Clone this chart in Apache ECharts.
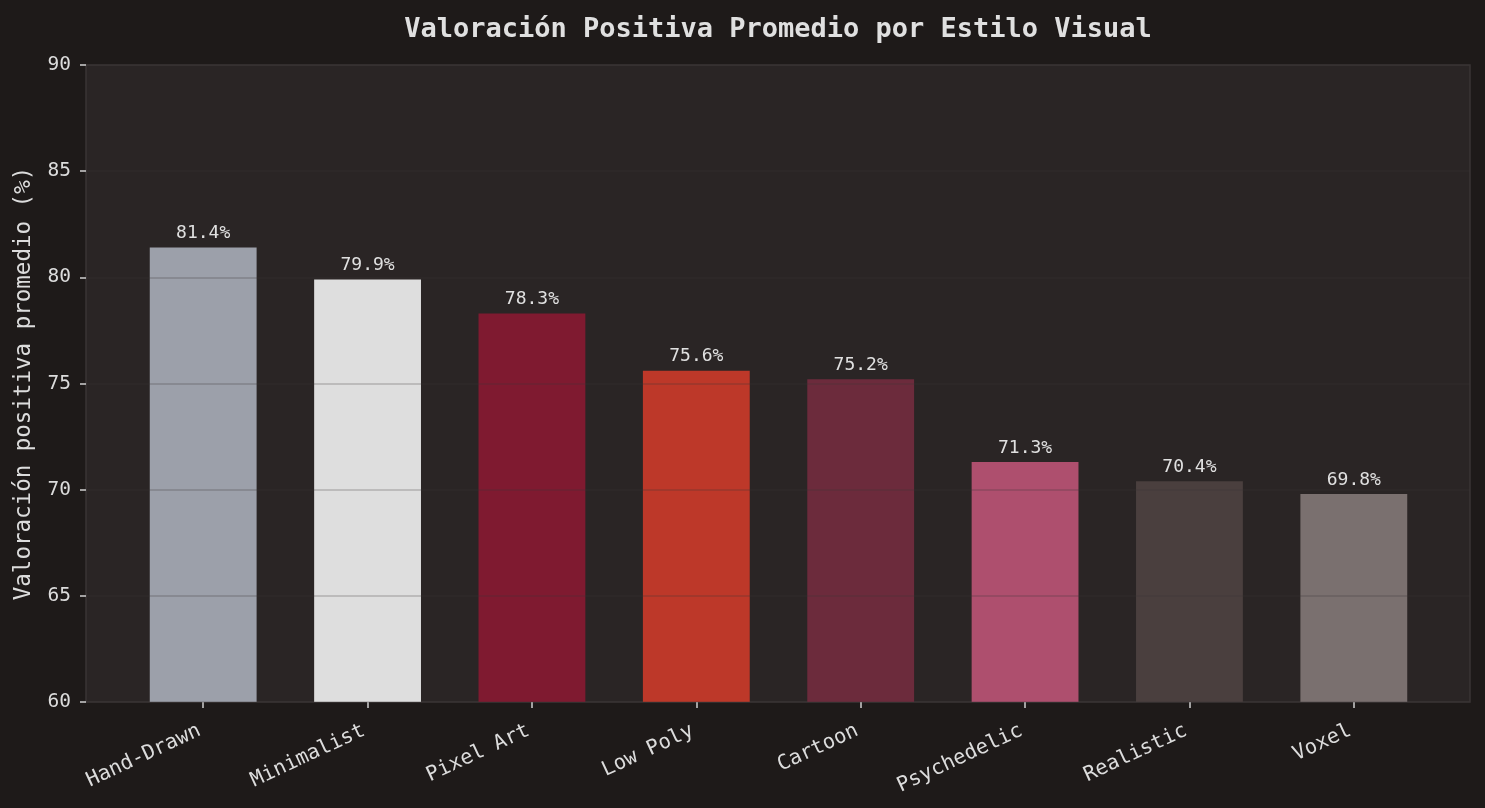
<!DOCTYPE html>
<html>
<head>
<meta charset="utf-8">
<script src="https://cdn.jsdelivr.net/npm/echarts@6/dist/echarts.min.js"></script>
<style>
html,body{margin:0;padding:0;background:#1e1a19;}
#c{width:1485px;height:808px;}
</style>
</head>
<body>
<div id="c"></div>
<script>
const categories = ['Hand-Drawn','Minimalist','Pixel Art','Low Poly','Cartoon','Psychedelic','Realistic','Voxel'];
const values = [81.4, 79.9, 78.3, 75.6, 75.2, 71.3, 70.4, 69.8];
const barColors = ['#9ca0aa','#dedede','#7f1a30','#bd3829','#6c2b3c','#ae4f6e','#4a3f3e','#7a706f'];
const yMin = 60, yMax = 90, yStep = 5;
const FONT = 'DejaVu Sans Mono';

const chart = echarts.init(document.getElementById('c'));
chart.setOption({
  backgroundColor: '#1e1a19',
  animation: false,
  title: {
    text: 'Valoración Positiva Promedio por Estilo Visual',
    left: 778, top: 16, textAlign: 'center', padding: 0,
    textStyle: {color: '#e0e0e0', fontSize: 27, fontWeight: 'bold', fontFamily: FONT}
  },
  grid: [
    {left: 86, right: 15, top: 65, bottom: 106, show: true, backgroundColor: '#2a2525', borderColor: '#3a3535', borderWidth: 1.5},
    {left: 121, right: 49, top: 65, bottom: 106}
  ],
  xAxis: [
    {gridIndex: 0, type: 'value', min: 0, max: 1, show: false},
    {gridIndex: 1, type: 'category', data: categories,
     axisLine: {show: false},
     axisTick: {show: true, alignWithLabel: true, length: 6, lineStyle: {color: '#cfcfcf', width: 1.5}},
     axisLabel: {rotate: 25, interval: 0, margin: 26, padding: [0, 4, 0, 0], color: '#dcdcdc', fontSize: 20.5, fontFamily: FONT}
    }
  ],
  yAxis: [
    {gridIndex: 0, type: 'value', min: yMin, max: yMax, interval: yStep, z: 3,
     name: 'Valoración positiva promedio (%)', nameLocation: 'middle', nameGap: 50,
     nameTextStyle: {color: '#dcdcdc', fontSize: 22.5, fontFamily: FONT},
     axisLine: {show: false},
     axisTick: {show: true, length: 6, lineStyle: {color: '#cfcfcf', width: 1.5}},
     axisLabel: {color: '#dcdcdc', fontSize: 19.5, fontFamily: FONT, margin: 15},
     splitLine: {show: true, lineStyle: {color: 'rgba(60,55,55,0.28)', width: 1.5}}
    },
    {gridIndex: 1, type: 'value', min: yMin, max: yMax, show: false, splitLine: {show: false}}
  ],
  series: [{
    type: 'bar', xAxisIndex: 1, yAxisIndex: 1, barWidth: '65%',
    data: values.map((v, i) => ({value: v, itemStyle: {color: barColors[i]}})),
    label: {show: true, position: 'top', distance: 5, formatter: p => p.value.toFixed(1) + '%',
            color: '#e0e0e0', fontSize: 18, fontFamily: FONT}
  }]
});
</script>
</body>
</html>
